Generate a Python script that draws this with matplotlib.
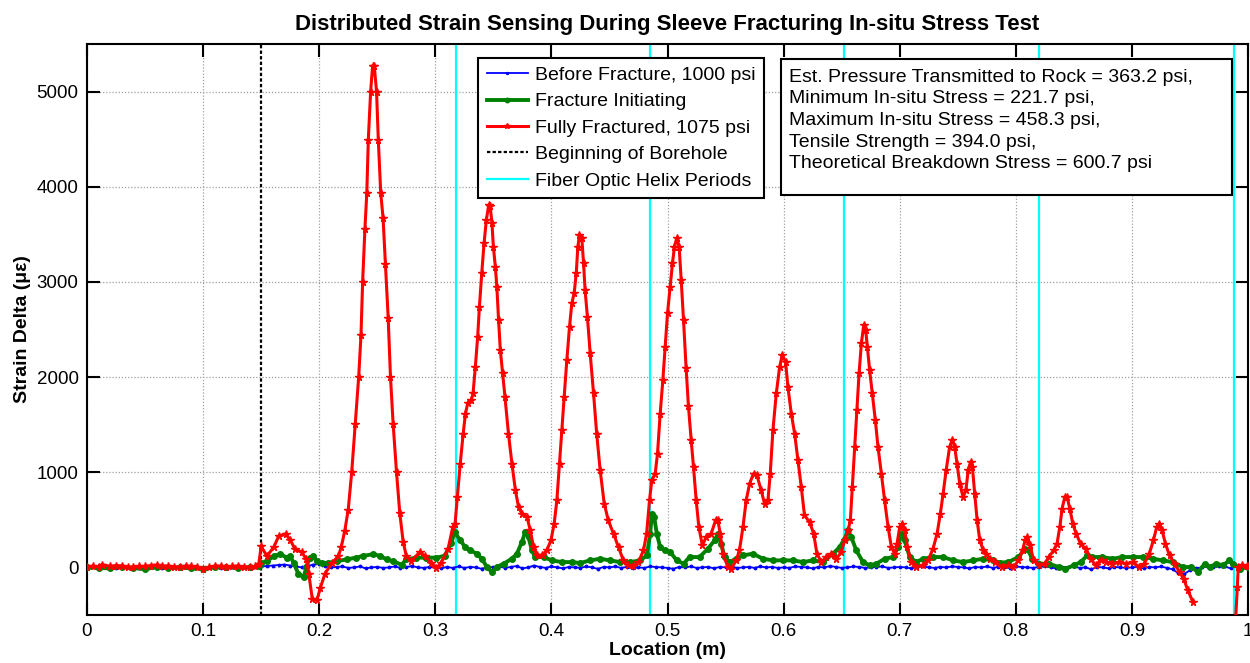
import numpy as np
import matplotlib
matplotlib.use("Agg")
import matplotlib.pyplot as plt
from matplotlib.patches import Rectangle

plt.rcParams['font.family'] = ['Liberation Sans', 'DejaVu Sans']

title = "Distributed Strain Sensing During Sleeve Fracturing In-situ Stress Test"
xlabel = "Location (m)"
ylabel = "Strain Delta (\u03bc\u03b5)"
labels = ["Before Fracture, 1000 psi", "Fracture Initiating", "Fully Fractured, 1075 psi",
          "Beginning of Borehole", "Fiber Optic Helix Periods"]
info_lines = ["Est. Pressure Transmitted to Rock = 363.2 psi,",
              "Minimum In-situ Stress = 221.7 psi,",
              "Maximum In-situ Stress = 458.3 psi,",
              "Tensile Strength = 394.0 psi,",
              "Theoretical Breakdown Stress = 600.7 psi"]

borehole_x = 0.15
helix_x = [0.3176, 0.4848, 0.6523, 0.8198, 0.9880]

# Before fracture (sampled every 0.005 m)
blue_x = np.round(np.arange(0, 1.0001, 0.005), 3)
blue_y = [5, 10, 0, 15, 5, -5, 10, 0, 5, -10, 5, 0, 10, -5, 0, 5, -10, 0, 5, 10, -5, 0, 5, -5, 10, 0, 5, 0, -5, 5,
          10, 15, 20, 25, 30, 20, 10, 0, 15, 30, 35, 10, 0, 5, 10, -5, 0, 10, -10, 0, 5, -5, 0, 10, -5, 5, 15, 0, -5, 5,
          0, -10, 5, -5, 10, -5, 5, 0, -15, 5, 0, 10, -5, 5, 15, -10, 0, 20, 5, -5, 10, 0, -10, 5, 0, -5, 10, 0, -15, 5,
          0, 10, -5, 5, -10, 0, -5, 10, 5, 0, -5, -15, 5, 0, 10, -5, 0, 5, -10, 5, 0, 10, -5, 0, 5, -5, 10, 0, 5, -5,
          0, -5, 10, 5, 0, -10, 5, 0, 15, 5, -5, 0, 10, 5, -5, 0, 5, 10, -5, 0, 5, 0, -10, 5, 10, 0, -5, 5, 0, 10,
          5, 0, -10, 5, 0, 10, -5, 5, 0, -5, 10, 5, 0, -5, 5, 10, 0, -10, 5, 0, 10, -5, 0, -20, 5, 0, -10, 5, 0, -5,
          0, 5, -10, 5, 0, 10, -5, -20, -60, -70, -30, -10, 0, 10, 0, 20, 10, -10, 20, 5, 10]

# Fracture initiating
green_x = [0, 0.01, 0.02, 0.03, 0.04, 0.05, 0.06, 0.07, 0.08, 0.09, 0.1, 0.11, 0.12, 0.13, 0.14, 0.148,
           0.150, 0.155, 0.161, 0.1666, 0.172, 0.175, 0.178, 0.182, 0.1866, 0.189, 0.192, 0.195, 0.198, 0.2023,
           0.208, 0.215, 0.2237, 0.232, 0.238, 0.2466, 0.2523, 0.258, 0.2637, 0.2709, 0.275, 0.2837, 0.2923,
           0.301, 0.308, 0.3137, 0.3166, 0.3215, 0.3258, 0.33, 0.3359, 0.34, 0.3445, 0.3488, 0.353, 0.3588,
           0.366, 0.3703, 0.3746, 0.3775, 0.3803, 0.3832, 0.386, 0.3933, 0.4004, 0.409, 0.4176, 0.4248, 0.4334,
           0.442, 0.4506, 0.4593, 0.4679, 0.4765, 0.4822, 0.4851, 0.4865, 0.4885, 0.4908, 0.4937, 0.498, 0.5023,
           0.508, 0.5138, 0.519, 0.5276, 0.5348, 0.5405, 0.5434, 0.5463, 0.5491, 0.5534, 0.5592, 0.565, 0.5736,
           0.5822, 0.5908, 0.5994, 0.608, 0.6167, 0.6253, 0.6339, 0.6425, 0.6483, 0.6526, 0.6555, 0.6583, 0.6626,
           0.6684, 0.6741, 0.6799, 0.6871, 0.6943, 0.6986, 0.7014, 0.7043, 0.7086, 0.7144, 0.7201, 0.7287,
           0.7374, 0.746, 0.7546, 0.7632, 0.7718, 0.7805, 0.7863, 0.7936, 0.8023, 0.8081, 0.811, 0.8139, 0.8197,
           0.8283, 0.837, 0.8428, 0.85, 0.8558, 0.8616, 0.8659, 0.8746, 0.8832, 0.8919, 0.9006, 0.9092, 0.9179,
           0.9266, 0.9353, 0.9439, 0.9512, 0.9569, 0.9627, 0.967, 0.9728, 0.9786, 0.9838, 0.9873, 0.9931, 1.0]
green_y = [0, -5, -10, 5, -5, -20, 5, -5, 0, -10, -15, 0, 5, -5, 0, 10,
           47, 65, 121, 140, 103, 121, 47, -65, -103, 9, 103, 121, 65, 47,
           47, 65, 84, 103, 121, 140, 121, 84, 65, 28, 84, 103, 103,
           103, 121, 252, 372, 284, 214, 179, 144, 91, 4, -49, 4, 39,
           91, 144, 267, 372, 319, 179, 109, 109, 74, 56, 56, 46, 74,
           91, 74, 56, 56, 74, 126, 354, 565, 530, 354, 214, 179, 161,
           74, 39, 109, 109, 196, 284, 354, 249, 109, 56, 91, 126, 144,
           91, 74, 74, 74, 56, 74, 56, 144, 214, 302, 389, 319, 179,
           56, 21, 39, 91, 109, 214, 354, 284, 109, 56, 91, 109,
           109, 74, 56, 74, 91, 74, 50, 56, 109, 196, 179, 91, 39,
           39, 4, -14, 21, 56, 126, 109, 109, 91, 109, 109, 109, 91,
           74, 56, 4, 4, -49, 39, 4, 39, 21, 74, 39, -14, 4]

# Fully fractured (two segments, gap where the trace leaves the axis)
red_x = [0, 0.005, 0.01, 0.013, 0.02, 0.025, 0.03, 0.035, 0.04, 0.045, 0.05, 0.055, 0.06, 0.065, 0.07,
         0.075, 0.08, 0.085, 0.09, 0.095, 0.1, 0.105, 0.11, 0.115, 0.12, 0.125, 0.13, 0.135, 0.14, 0.145, 0.148,
         0.150, 0.155, 0.161, 0.165, 0.171, 0.175, 0.179, 0.185, 0.189, 0.191, 0.194, 0.198, 0.201, 0.205,
         0.211, 0.2166, 0.219, 0.222, 0.225, 0.228, 0.231, 0.234, 0.236, 0.2374, 0.2394, 0.241, 0.2423,
         0.2443, 0.246, 0.2474, 0.2494, 0.2509, 0.253, 0.255, 0.257, 0.2594, 0.2614, 0.2637, 0.2666, 0.2694,
         0.2723, 0.275, 0.279, 0.2866, 0.291, 0.2966, 0.301, 0.305, 0.311, 0.315, 0.317, 0.319, 0.3215,
         0.324, 0.326, 0.328, 0.331, 0.3325, 0.3345, 0.3365, 0.338, 0.340, 0.342, 0.344, 0.346, 0.3473,
         0.3488, 0.350, 0.3517, 0.353, 0.3545, 0.356, 0.358, 0.360, 0.363, 0.366, 0.369, 0.3717, 0.3746,
         0.379, 0.3818, 0.3846, 0.3875, 0.392, 0.396, 0.3996, 0.4024, 0.4047, 0.407, 0.409, 0.411, 0.4133,
         0.4156, 0.4176, 0.4196, 0.4214, 0.4228, 0.4242, 0.4262, 0.4277, 0.429, 0.431, 0.4334, 0.4363,
         0.439, 0.442, 0.4455, 0.449, 0.4535, 0.4578, 0.462, 0.4664, 0.4707, 0.475, 0.4793, 0.482, 0.4845,
         0.4865, 0.4894, 0.4914, 0.4937, 0.496, 0.498, 0.500, 0.5023, 0.5043, 0.506, 0.508, 0.510, 0.5118,
         0.5138, 0.516, 0.518, 0.5204, 0.5224, 0.5247, 0.527, 0.530, 0.5333, 0.5376, 0.5414, 0.5434, 0.5454,
         0.5477, 0.552, 0.5549, 0.5592, 0.562, 0.565, 0.5678, 0.5707, 0.5741, 0.577, 0.5807, 0.5836, 0.5865,
         0.5885, 0.5908, 0.5937, 0.5966, 0.5989, 0.6017, 0.6037, 0.6066, 0.6095, 0.6124, 0.6152, 0.618,
         0.6224, 0.6259, 0.6287, 0.6325, 0.6368, 0.641, 0.6454, 0.6497, 0.6526, 0.6555, 0.6575, 0.6592,
         0.6612, 0.6632, 0.665, 0.667, 0.669, 0.6707, 0.6721, 0.6741, 0.6764, 0.679, 0.6813, 0.6842, 0.687,
         0.690, 0.6928, 0.6957, 0.6977, 0.700, 0.7023, 0.7043, 0.7066, 0.710, 0.7144, 0.7201, 0.7244, 0.7287,
         0.7322, 0.735, 0.7374, 0.740, 0.743, 0.7454, 0.7474, 0.7494, 0.7517, 0.7546, 0.757, 0.759, 0.761,
         0.7626, 0.7646, 0.7667, 0.769, 0.772, 0.7747, 0.7776, 0.782, 0.7879, 0.7936, 0.798, 0.8023, 0.8058,
         0.808, 0.810, 0.8124, 0.8153, 0.8197, 0.8249, 0.8283, 0.8327, 0.8355, 0.8379, 0.8399, 0.8422, 0.8442,
         0.8465, 0.8491, 0.852, 0.8558, 0.8601, 0.8644, 0.8688, 0.8731, 0.8775, 0.8832, 0.889, 0.8948, 0.9006,
         0.9064, 0.9107, 0.915, 0.9185, 0.9214, 0.9237, 0.926, 0.9289, 0.9324, 0.9367, 0.941, 0.9445, 0.9483,
         0.9526,
         np.nan,
         0.9893, 0.9908, 0.9916, 0.9945, 0.9988, 1.0]
red_y = [5, 15, 5, 30, 10, 20, 15, 5, 0, 10, 10, 20, 25, 15, 15,
         5, 5, 15, 10, 0, -15, 0, 10, 15, 5, 10, 15, 5, 5, 10, 40,
         220, 120, 215, 327, 353, 290, 196, 160, 85, -65, -327, -345, -215, -65,
         47, 120, 215, 383, 607, 1000, 1505, 2000, 2440, 3000, 3561, 3935, 4495,
         5000, 5270, 5270, 5000, 4495, 3935, 3673, 3187, 2626, 2000, 1505, 1000, 570,
         271, 120, 65, 160, 120, 47, -10, 47, 196, 420, 460, 740, 1091,
         1407, 1617, 1730, 1758, 1828, 2109, 2425, 2740, 3091, 3407, 3653, 3810, 3793,
         3617, 3372, 3161, 2951, 2600, 2284, 2039, 1793, 1407, 1091, 810, 635, 565,
         530, 389, 214, 126, 126, 179, 284, 460, 705, 1091, 1442, 1793, 2179,
         2530, 2775, 2881, 3091, 3372, 3495, 3460, 3196, 2916, 2635, 2249, 1828,
         1407, 1021, 670, 495, 354, 214, 74, 21, 11, 56, 179, 354, 705,
         916, 986, 1196, 1617, 1968, 2319, 2670, 2951, 3196, 3372, 3460, 3372, 3021,
         2600, 2100, 1700, 1337, 1056, 705, 425, 232, 319, 354, 495, 495, 354,
         144, 4, -14, 74, 179, 425, 705, 881, 986, 968, 810, 670, 705,
         986, 1442, 1828, 2109, 2232, 2161, 1898, 1617, 1407, 1126, 846, 547,
         477, 354, 144, 56, 109, 144, 91, 161, 284, 389, 495, 846,
         1267, 1653, 2039, 2354, 2547, 2495, 2319, 2074, 1828, 1547, 1267, 986, 705,
         425, 214, 144, 249, 425, 460, 389, 214, 56, 4, 21, 74, 196,
         354, 565, 775, 1021, 1267, 1344, 1267, 1091, 881, 740, 810, 1021, 1109,
         1056, 775, 495, 284, 179, 144, 91, 55, 4, 21, 4, 74, 179,
         284, 319, 232, 74, 21, 39, 109, 179, 249, 425, 618, 740, 740,
         618, 460, 354, 249, 196, 91, 21, 74, 56, 39, 56, 39, 56,
         4, 39, 144, 284, 425, 460, 389, 249, 126, 39, -49, -119, -242,
         -365,
         np.nan,
         -560, -207, 4, 21, 11, 10]

fig = plt.figure(figsize=(12.5, 6.63), dpi=100)
ax = fig.add_axes([0.0696, 0.0724, 0.9288, 0.8612])

lb, = ax.plot(blue_x, blue_y, color='#0000ff', lw=1.3, marker='.', ms=3.5, zorder=3)
lg, = ax.plot(green_x, green_y, color='#008000', lw=2.8, marker='o', ms=4.0, zorder=4)
lr, = ax.plot(red_x, red_y, color='#ff0000', lw=2.2, marker='*', ms=5.5, zorder=5)
lk = ax.axvline(borehole_x, color='black', ls=(0, (1.5, 1.0)), lw=1.6, zorder=2)
for hx in helix_x:
    lc = ax.axvline(hx, color='#00ffff', lw=1.6, zorder=2)

ax.set_xlim(0, 1)
ax.set_ylim(-500, 5500)
ax.set_xticks(np.round(np.arange(0, 1.01, 0.1), 1))
ax.set_xticklabels(['0', '0.1', '0.2', '0.3', '0.4', '0.5', '0.6', '0.7', '0.8', '0.9', '1'])
ax.set_yticks([0, 1000, 2000, 3000, 4000, 5000])
ax.tick_params(direction='in', length=9, width=1.5, labelsize=13.5, top=True, right=True, pad=6)
for s in ax.spines.values():
    s.set_linewidth(1.5)
ax.grid(True, ls=(0, (1, 1.5)), color='#a0a0a0', lw=0.9)
ax.set_axisbelow(True)

ax.set_title(title, fontsize=16, fontweight='bold', pad=10)
ax.set_xlabel(xlabel, fontsize=14, fontweight='bold', labelpad=1)
ax.set_ylabel(ylabel, fontsize=14, fontweight='bold', labelpad=4)

leg = ax.legend([lb, lg, lr, lk, lc], labels, loc='upper left', bbox_to_anchor=(0.337, 0.976),
                fontsize=14, frameon=True, fancybox=False, edgecolor='black', framealpha=1,
                handlelength=2.1, handletextpad=0.35, labelspacing=0.45, borderpad=0.45, markerscale=0.8,
                borderaxespad=0)
leg.get_frame().set_linewidth(1.5)
leg.set_zorder(10)

rect = Rectangle((0.598, 0.7356), 0.388, 0.2384, transform=ax.transAxes, facecolor='white',
                 edgecolor='black', lw=1.5, zorder=10)
ax.add_patch(rect)
ax.text(0.605, 0.957, "\n".join(info_lines), transform=ax.transAxes, fontsize=14, va='top', ha='left',
        linespacing=1.36, zorder=11)

fig.savefig("out.png", dpi=100)
